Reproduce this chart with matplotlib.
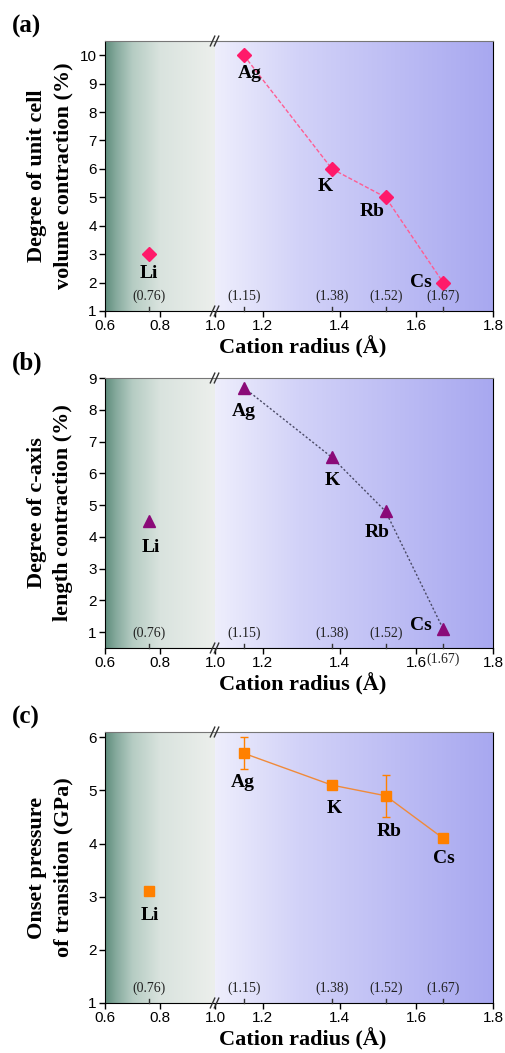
import numpy as np
import matplotlib
matplotlib.use("Agg")
import matplotlib.pyplot as plt
from matplotlib.colors import LinearSegmentedColormap
from matplotlib.transforms import blended_transform_factory

# cation data
cations = ["Li", "Ag", "K", "Rb", "Cs"]
radius = [0.76, 1.15, 1.38, 1.52, 1.67]
radius_labels = ["(0.76)", "(1.15)", "(1.38)", "(1.52)", "(1.67)"]

vol_contraction = [3, 10, 6, 5, 2]
c_contraction = [4.5, 8.7, 6.5, 4.8, 1.1]
onset_pressure = [3.1, 5.7, 5.1, 4.9, 4.1]
onset_err = [0, 0.3, 0, 0.4, 0]

W, H = 506, 1053
fig = plt.figure(figsize=(W / 100, H / 100), dpi=100)

serif = "Liberation Serif"
sans = "Liberation Sans"

left_cmap = LinearSegmentedColormap.from_list(
    "lft", [(0, "#5E8C7C"), (0.1, "#86AA9D"), (0.25, "#B5CCC3"), (0.5, "#D9E3DE"), (1, "#ECEFEC")])
right_cmap = LinearSegmentedColormap.from_list(
    "rgt", [(0, "#EEEEFC"), (0.3, "#D2D2F8"), (1, "#A8A8F0")])

x_left, x_brk, x_right = 105, 215, 493


def make_panel(top, bottom, ylim, yticks, ydata, ylabel, tag, style, offsets,
               err=None, below_167=False):
    b = 1 - bottom / H
    h = (bottom - top) / H
    axl = fig.add_axes([x_left / W, b, (x_brk - x_left) / W, h])
    axr = fig.add_axes([x_brk / W, b, (x_right - x_brk) / W, h])

    grad = np.linspace(0, 1, 256).reshape(1, -1)
    for ax, cm in ((axl, left_cmap), (axr, right_cmap)):
        ax.imshow(grad, cmap=cm, aspect="auto", extent=(0, 1, 0, 1),
                  transform=ax.transAxes, zorder=0)
        ax.set_ylim(*ylim)
        ax.spines["top"].set_color("#777777")
        ax.tick_params(direction="out", length=4, width=1, labelsize=11, pad=2)

    axl.set_xlim(0.6, 1.0)
    axr.set_xlim(1.075, 1.8)
    axl.set_xticks([0.6, 0.8, 1.0])
    axl.set_xticklabels(["0.6", "0.8", "1.0"], family=sans)
    axr.set_xticks([1.2, 1.4, 1.6, 1.8])
    axr.set_xticklabels(["1.2", "1.4", "1.6", "1.8"], family=sans)
    axl.set_yticks(yticks)
    axl.set_yticklabels([str(t) for t in yticks], family=sans)
    axr.set_yticks([])
    axl.spines["right"].set_visible(False)
    axr.spines["left"].set_visible(False)

    color, marker, ms, lcolor, ls = style
    # Li alone on the left segment
    axl.plot(radius[0], ydata[0], marker=marker, ms=ms, color=color, ls="none", zorder=3)
    if err is not None:
        axr.errorbar(radius[1:], ydata[1:], yerr=err[1:], color=lcolor, lw=1,
                     ls=ls, marker=marker, ms=ms, mfc=color, mec=color,
                     ecolor=color, elinewidth=1, capsize=3, zorder=3)
    else:
        axr.plot(radius[1:], ydata[1:], color=lcolor, lw=1, ls=ls, zorder=2)
        axr.plot(radius[1:], ydata[1:], marker=marker, ms=ms, color=color,
                 ls="none", zorder=3)

    for i, name in enumerate(cations):
        ax = axl if i == 0 else axr
        dx, dy = offsets[i]
        ax.annotate(name, (radius[i], ydata[i]), xytext=(dx, -dy),
                    textcoords="offset pixels", ha="center", va="center",
                    family=serif, fontweight="bold", fontsize=14, zorder=4)

    # radius annotations with small inner ticks
    for i, lab in enumerate(radius_labels):
        ax = axl if i == 0 else axr
        tr = blended_transform_factory(ax.transData, ax.transAxes)
        ax.plot([radius[i], radius[i]], [0, 0.015], color="#333333", lw=1,
                transform=tr, clip_on=False, zorder=4)
        ty = 0.055
        if below_167 and i == 4:
            ty = -0.04
        ax.text(radius[i], ty, lab, transform=tr, ha="center", va="center",
                family=serif, fontsize=10, color="#222222", zorder=4)

    # break marks
    for yy in (0, 1):
        for off in (-3, 1):
            axr.plot([off / (x_right - x_brk) - 0.006, off / (x_right - x_brk) + 0.010],
                     [yy - 0.018, yy + 0.018], transform=axr.transAxes,
                     color="#333333", lw=1, clip_on=False, zorder=5)

    cy = 1 - (top + bottom) / 2 / H
    fig.text(50 / W, cy, ylabel, rotation=90, ha="center", va="center",
             family=serif, fontweight="bold", fontsize=16, linespacing=1.4)
    fig.text(303 / W, 1 - (bottom + 36) / H, "Cation radius (Å)", ha="center",
             va="center", family=serif, fontweight="bold", fontsize=16)
    fig.text(12 / W, 1 - (top - 15) / H, tag, ha="left", va="center",
             family=serif, fontweight="bold", fontsize=18)


make_panel(41, 311, (1, 10.5), list(range(1, 11)), vol_contraction,
           "Degree of unit cell\nvolume contraction (%)", "(a)",
           ("#FF1A6A", "D", 7.5, "#FF5C92", (0, (3, 1.5))),
           [(0, 19), (6, 18), (-7, 18), (-14, 14), (-22, 0)])

make_panel(378, 648, (0.5, 9), list(range(1, 10)), c_contraction,
           "Degree of c-axis\nlength contraction (%)", "(b)",
           ("#8A0A78", "^", 9, "#4A4A66", (0, (1.5, 1.5))),
           [(2, 27), (0, 24), (0, 23), (-9, 21), (-22, -3)],
           below_167=True)

make_panel(732, 1003, (1, 6.1), list(range(1, 7)), onset_pressure,
           "Onset pressure\nof transition (GPa)", "(c)",
           ("#FF8000", "s", 7.5, "#F08A3A", "-"),
           [(1, 24), (-1, 29), (2, 23), (3, 36), (1, 20)],
           err=onset_err)

fig.savefig("out.png", dpi=100)
